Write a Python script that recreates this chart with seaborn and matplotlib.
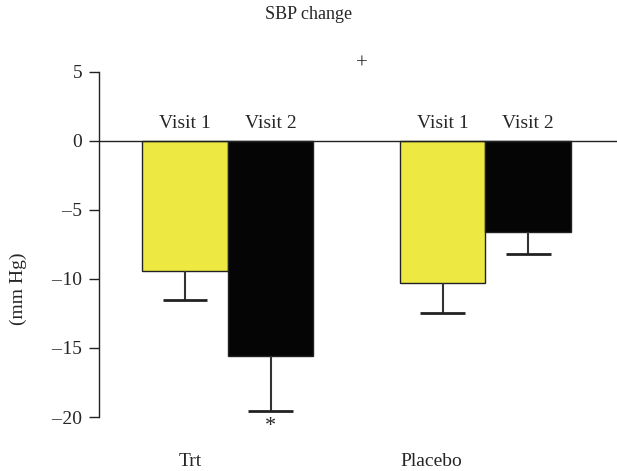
import matplotlib
matplotlib.use("Agg")
from matplotlib import pyplot as plt
import seaborn as sns
import pandas as pd

groups = ["Trt", "Trt", "Placebo", "Placebo"]
visits = ["Visit 1", "Visit 2", "Visit 1", "Visit 2"]
sbp_change = [-9.4, -15.6, -10.3, -6.6]
sbp_err = [2.1, 4.0, 2.2, 1.6]
y_ticks = [5, 0, -5, -10, -15, -20]

df = pd.DataFrame({"group": groups, "visit": visits, "change": sbp_change, "err": sbp_err})

sns.set_theme(style="white")
plt.rcParams["font.family"] = ["Liberation Serif", "DejaVu Serif"]

fig = plt.figure(figsize=(6.17, 4.71), dpi=100)
ax = fig.add_axes([0.16, 0.1146, 0.84, 0.7332])

sns.barplot(data=df, x="group", y="change", hue="visit",
            palette=["#eee843", "#050505"], saturation=1, width=0.665, gap=0,
            edgecolor="#222222", linewidth=1, legend=False, ax=ax)

# error bars only below the bar, visit label above each bar
bars = list(ax.patches)[:4]
order = df.sort_values("visit", kind="stable")
for patch, (_, row) in zip(bars, order.iterrows()):
    cx = patch.get_x() + patch.get_width() / 2
    low = row["change"] - row["err"]
    ax.vlines(cx, low, row["change"], color="#333333", lw=1.5)
    ax.hlines(low, cx - 0.086, cx + 0.086, color="#222222", lw=2)
    ax.text(cx, 0.6, row["visit"], ha="center", va="bottom", fontsize=14)

ax.axhline(0, color="#222222", lw=1, clip_on=False)
ax.set_xlim(-0.5, 1.51)
ax.set_ylim(-20, 5)
ax.set_yticks(y_ticks)
ax.set_yticklabels([f"\u2013\u200a{abs(v)}" if v < 0 else str(v) for v in y_ticks])
ax.tick_params(axis="y", direction="out", length=7, width=1, left=True,
               labelsize=14, pad=5, color="#222222")
ax.set_xticks([])
ax.set_xlabel("")
ax.set_ylabel("(mm Hg)", fontsize=14)
ax.yaxis.set_label_coords(-0.138, 0.37)
for s in ["top", "right", "bottom"]:
    ax.spines[s].set_visible(False)
ax.spines["left"].set_color("#222222")
ax.spines["left"].set_linewidth(1)

# group labels and significance markers
ax.text(-0.145, -23.2, "Trt", ha="center", va="center", fontsize=14)
ax.text(0.79, -23.2, "Placebo", ha="center", va="center", fontsize=14)
ax.text(0.52, 5.55, "+", ha="center", va="center", fontsize=15)
bx = bars[2].get_x() + bars[2].get_width() / 2
ax.text(bx, -20.7, "*", ha="center", va="center", fontsize=16)

fig.text(0.5, 0.97, "SBP change", ha="center", va="center", fontsize=13)

fig.savefig("out.png", dpi=100)
